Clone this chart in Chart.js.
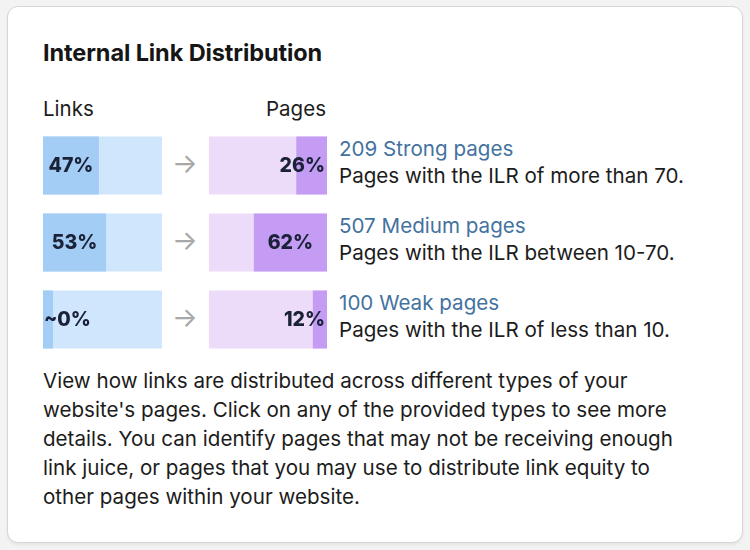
<!DOCTYPE html>
<html>
<head>
<meta charset="utf-8">
<script src="https://cdn.jsdelivr.net/npm/chart.js@4/dist/chart.umd.min.js"></script>
<style>
  html, body { margin: 0; padding: 0; }
  body {
    width: 750px; height: 550px; overflow: hidden;
    background: #f3f3f3;
    font-family: Inter, "Noto Sans", sans-serif;
    color: #1c1c1c;
    position: relative;
  }
  .card {
    position: absolute; left: 7px; top: 6px; width: 734px; height: 535px;
    background: #fff; border: 1.5px solid #d6d6d6; border-radius: 11px;
    box-shadow: 0 2px 3px rgba(0,0,0,0.06);
  }
  .abs { position: absolute; white-space: nowrap; }
  h1 { margin: 0; font-size: 23.5px; font-weight: 700; letter-spacing: -0.1px; line-height: 28px; color: #161616; }
  .head { font-size: 20.5px; line-height: 24px; }
  .arrow { font-size: 27px; color: #a8a8a8; width: 30px; text-align: center; line-height: 30px; }
  .info { font-size: 20.6px; line-height: 27px; }
  .info a { color: #44729f; text-decoration: none; }
  .para { font-size: 20.6px; line-height: 29px; }
  canvas { position: absolute; }
</style>
</head>
<body>
<div class="card"></div>
<h1 class="abs" style="left:43px; top:39px;">Internal Link Distribution</h1>
<div class="abs head" style="left:43px; top:97px;">Links</div>
<div class="abs head" style="left:266px; top:97px;">Pages</div>

<canvas id="linksChart" width="119" height="231" style="left:43px; top:127px;"></canvas>
<canvas id="pagesChart" width="118" height="231" style="left:209px; top:127px;"></canvas>

<div id="arrows"></div>
<div id="info"></div>

<div class="abs para" style="left:43px; top:366px;">
View how links are distributed across different types of your<br>
website's pages. Click on any of the provided types to see more<br>
details. You can identify pages that may not be receiving enough<br>
link juice, or pages that you may use to distribute link equity to<br>
other pages within your website.
</div>

<script>
// ---------- data ----------
const categories = ["Strong", "Medium", "Weak"];
const linkShares = [47, 53, 0];
const linkLabels = ["47%", "53%", "~0%"];
const pageShares = [26, 62, 12];
const pageLabels = ["26%", "62%", "12%"];
const pageCounts = [209, 507, 100];
const pageRules = [
  "Pages with the ILR of more than 70.",
  "Pages with the ILR between 10-70.",
  "Pages with the ILR of less than 10.",
];
const TRACK = [100, 100, 100];

const ROW_TOP = 136;
const ROW_STEP = 77;

// ---------- side text ----------
const infoEl = document.getElementById("info");
const arrowsEl = document.getElementById("arrows");
categories.forEach((cat, i) => {
  const top = ROW_TOP + i * ROW_STEP;
  const d = document.createElement("div");
  d.className = "abs info";
  d.style.left = "339px";
  d.style.top = top - 1 + "px";
  d.innerHTML = `<a href="#">${pageCounts[i]} ${cat} pages</a><br>${pageRules[i]}`;
  infoEl.appendChild(d);

  const a = document.createElement("div");
  a.className = "abs arrow";
  a.style.left = "170px";
  a.style.top = top + 13 + "px";
  a.textContent = "→";
  arrowsEl.appendChild(a);
});

// ---------- chart ----------
// percent text centred in the filled part, kept inside the bar
const pctLabels = {
  id: "pctLabels",
  afterDatasetsDraw(chart, args, opts) {
    const ctx = chart.ctx;
    const area = chart.chartArea;
    const meta = chart.getDatasetMeta(0);
    ctx.save();
    ctx.font = "800 19.5px Inter, 'Noto Sans', sans-serif";
    ctx.fillStyle = "#1b2238";
    ctx.textBaseline = "middle";
    ctx.textAlign = "left";
    meta.data.forEach((bar, i) => {
      const text = opts.labels[i];
      const w = ctx.measureText(text).width;
      let left = (bar.x + bar.base) / 2 - w / 2;
      if (opts.side === "left") left = Math.max(left, area.left + 1);
      else left = Math.min(left, area.right - 2 - w);
      ctx.fillText(text, left, bar.y + 1);
    });
    ctx.restore();
  },
};

function buildBars(id, values, labels, fill, track, reverse) {
  const ctx = document.getElementById(id).getContext("2d");
  return new Chart(ctx, {
    type: "bar",
    data: {
      labels: categories,
      datasets: [
        {
          data: values,
          backgroundColor: fill,
          minBarLength: reverse ? 0 : 10,
        },
        {
          data: TRACK,
          backgroundColor: track,
        },
      ],
    },
    options: {
      indexAxis: "y",
      responsive: false,
      animation: false,
      events: [],
      datasets: { bar: { grouped: false, barPercentage: 1, categoryPercentage: 0.753, borderWidth: 0 } },
      layout: { padding: 0 },
      plugins: {
        legend: { display: false },
        tooltip: { enabled: false },
        pctLabels: { labels, side: reverse ? "right" : "left" },
      },
      scales: {
        x: { display: false, min: 0, max: 100, reverse },
        y: { display: false },
      },
    },
    plugins: [pctLabels],
  });
}

buildBars("linksChart", linkShares, linkLabels, "#a3cdf4", "#cfe6fc", false);
buildBars("pagesChart", pageShares, pageLabels, "#c49cf4", "#ecdcf9", true);
</script>
</body>
</html>
